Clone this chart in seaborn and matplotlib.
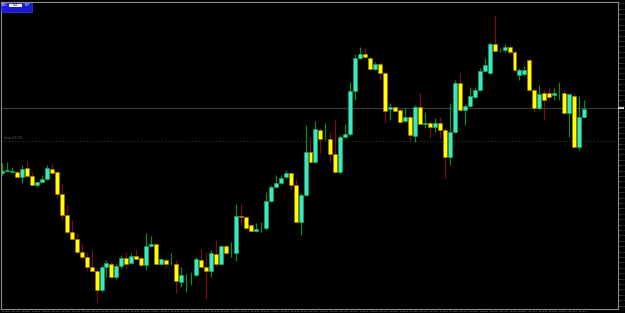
import numpy as np
import pandas as pd
import matplotlib
matplotlib.use("Agg")
import matplotlib.pyplot as plt
from matplotlib.patches import Rectangle
from matplotlib.ticker import FixedLocator, FuncFormatter
import seaborn as sns

# ---------------- data (OHLC) ----------------
open_ = [1.1147, 1.1149, 1.1148, 1.1148, 1.1143, 1.1152, 1.1144, 1.1135, 1.1138, 1.1141,
         1.1151, 1.1148, 1.1126, 1.1105, 1.1088, 1.1081, 1.1068, 1.1063, 1.1053, 1.1049,
         1.1030, 1.1053, 1.1056, 1.1043, 1.1054, 1.1062, 1.1057, 1.1064, 1.1062, 1.1055,
         1.1074, 1.1076, 1.1056, 1.1060, 1.1056, 1.1056, 1.1038, 1.1045, 1.1045, 1.1045,
         1.1060, 1.1053, 1.1049, 1.1066, 1.1056, 1.1074, 1.1067, 1.1067, 1.1104, 1.1103,
         1.1095, 1.1089, 1.1092, 1.1092, 1.1119, 1.1133, 1.1137, 1.1143, 1.1147, 1.1135,
         1.1098, 1.1125, 1.1168, 1.1158, 1.1190, 1.1182, 1.1181, 1.1166, 1.1148, 1.1183,
         1.1186, 1.1229, 1.1262, 1.1266, 1.1262, 1.1251, 1.1256, 1.1247, 1.1211, 1.1213,
         1.1210, 1.1199, 1.1203, 1.1184, 1.1213, 1.1196, 1.1197, 1.1193, 1.1197, 1.1190,
         1.1163, 1.1188, 1.1237, 1.1210, 1.1214, 1.1223, 1.1230, 1.1249, 1.1247, 1.1276,
         1.1270, 1.1270, 1.1273, 1.1268, 1.1245, 1.1246, 1.1260, 1.1230, 1.1212, 1.1227,
         1.1227, 1.1225, 1.1227, 1.1227, 1.1207, 1.1224, 1.1173, 1.1203]
high = [1.1157, 1.1158, 1.1153, 1.1150, 1.1155, 1.1159, 1.1148, 1.1139, 1.1145, 1.1155,
        1.1157, 1.1150, 1.1137, 1.1115, 1.1100, 1.1087, 1.1077, 1.1068, 1.1070, 1.1052,
        1.1055, 1.1060, 1.1058, 1.1056, 1.1065, 1.1068, 1.1067, 1.1071, 1.1064, 1.1087,
        1.1084, 1.1077, 1.1062, 1.1062, 1.1067, 1.1060, 1.1053, 1.1046, 1.1048, 1.1063,
        1.1072, 1.1068, 1.1070, 1.1080, 1.1075, 1.1076, 1.1078, 1.1116, 1.1116, 1.1104,
        1.1097, 1.1097, 1.1098, 1.1128, 1.1135, 1.1145, 1.1145, 1.1150, 1.1148, 1.1141,
        1.1127, 1.1195, 1.1183, 1.1199, 1.1192, 1.1197, 1.1188, 1.1200, 1.1185, 1.1196,
        1.1238, 1.1266, 1.1273, 1.1272, 1.1263, 1.1258, 1.1258, 1.1249, 1.1217, 1.1214,
        1.1212, 1.1212, 1.1205, 1.1215, 1.1227, 1.1208, 1.1199, 1.1202, 1.1203, 1.1192,
        1.1217, 1.1240, 1.1247, 1.1216, 1.1233, 1.1233, 1.1252, 1.1262, 1.1278, 1.1305,
        1.1272, 1.1276, 1.1275, 1.1270, 1.1252, 1.1254, 1.1262, 1.1232, 1.1235, 1.1230,
        1.1232, 1.1232, 1.1238, 1.1230, 1.1227, 1.1227, 1.1224, 1.1220]
low = [1.1145, 1.1148, 1.1147, 1.1142, 1.1137, 1.1142, 1.1134, 1.1133, 1.1137, 1.1140,
       1.1146, 1.1122, 1.1100, 1.1086, 1.1080, 1.1066, 1.1061, 1.1050, 1.1048, 1.1018,
       1.1028, 1.1043, 1.1042, 1.1041, 1.1052, 1.1052, 1.1056, 1.1060, 1.1052, 1.1050,
       1.1073, 1.1055, 1.1055, 1.1052, 1.1055, 1.1027, 1.1033, 1.1028, 1.1035, 1.1044,
       1.1052, 1.1021, 1.1043, 1.1054, 1.1055, 1.1066, 1.1063, 1.1059, 1.1095, 1.1091,
       1.1088, 1.1088, 1.1088, 1.1090, 1.1118, 1.1132, 1.1136, 1.1142, 1.1130, 1.1097,
       1.1085, 1.1124, 1.1157, 1.1157, 1.1167, 1.1180, 1.1158, 1.1147, 1.1146, 1.1182,
       1.1184, 1.1220, 1.1261, 1.1262, 1.1250, 1.1250, 1.1240, 1.1197, 1.1200, 1.1208,
       1.1197, 1.1198, 1.1178, 1.1178, 1.1195, 1.1192, 1.1182, 1.1188, 1.1182, 1.1142,
       1.1155, 1.1187, 1.1209, 1.1195, 1.1213, 1.1222, 1.1229, 1.1248, 1.1246, 1.1268,
       1.1268, 1.1268, 1.1266, 1.1248, 1.1240, 1.1244, 1.1228, 1.1208, 1.1210, 1.1200,
       1.1220, 1.1220, 1.1220, 1.1206, 1.1183, 1.1172, 1.1170, 1.1202]
close = [1.1149, 1.1150, 1.1149, 1.1143, 1.1151, 1.1144, 1.1135, 1.1138, 1.1141, 1.1152,
         1.1147, 1.1126, 1.1105, 1.1088, 1.1081, 1.1068, 1.1063, 1.1053, 1.1049, 1.1030,
         1.1053, 1.1057, 1.1043, 1.1054, 1.1062, 1.1056, 1.1064, 1.1061, 1.1055, 1.1074,
         1.1076, 1.1056, 1.1061, 1.1056, 1.1056, 1.1039, 1.1045, 1.1045, 1.1045, 1.1061,
         1.1053, 1.1049, 1.1067, 1.1056, 1.1074, 1.1067, 1.1067, 1.1104, 1.1103, 1.1092,
         1.1089, 1.1091, 1.1092, 1.1119, 1.1133, 1.1137, 1.1142, 1.1147, 1.1135, 1.1098,
         1.1125, 1.1168, 1.1158, 1.1191, 1.1181, 1.1182, 1.1166, 1.1148, 1.1183, 1.1186,
         1.1229, 1.1262, 1.1266, 1.1263, 1.1251, 1.1256, 1.1247, 1.1209, 1.1213, 1.1209,
         1.1198, 1.1203, 1.1185, 1.1213, 1.1196, 1.1197, 1.1193, 1.1197, 1.1190, 1.1163,
         1.1188, 1.1237, 1.1210, 1.1214, 1.1224, 1.1230, 1.1249, 1.1255, 1.1276, 1.1269,
         1.1270, 1.1273, 1.1268, 1.1250, 1.1250, 1.1250, 1.1230, 1.1212, 1.1226, 1.1220,
         1.1223, 1.1227, 1.1227, 1.1207, 1.1226, 1.1173, 1.1203, 1.1211]

bid_price = 1.1212
level_price = 1.1179
level_label = "Level 1.1179"
panel_labels = ["SELL", "0.01", "BUY"]

n = len(open_)
times = pd.date_range("2019-03-04 00:00", periods=n, freq="h")
time_labels = [t.strftime("%d %H:%M") for t in times]

df = pd.DataFrame({"t": np.arange(n), "open": open_, "high": high,
                   "low": low, "close": close})
df["up"] = df["close"] >= df["open"]

# ---------------- style ----------------
sns.set_style("dark", {"axes.facecolor": "black", "figure.facecolor": "black",
                       "axes.edgecolor": "#8c8c8c", "xtick.color": "#9a9a9a",
                       "ytick.color": "#9a9a9a", "text.color": "#c0c0c0"})
plt.rcParams["font.family"] = ["DejaVu Sans"]

W, H = 625, 313
fig = plt.figure(figsize=(W / 100, H / 100), dpi=100)
fig.patch.set_facecolor("black")
ax = fig.add_axes([1.5 / W, (H - 309) / H, (618 - 1.5) / W, (309 - 2) / H])
ax.set_facecolor("black")

up_body, dn_body = "#3ee6c8", "#ffff00"
up_wick, dn_wick = "#0f8a1c", "#7a0f0f"
up_edge, dn_edge = "#1aa05a", "#a07000"

# wicks
for is_up, col in [(True, up_wick), (False, dn_wick)]:
    d = df[df["up"] == is_up]
    ax.vlines(d["t"], d["low"], d["high"], colors=col, linewidth=0.9, zorder=1)

# bodies
mn = 0.00007
for is_up, fc, ec in [(True, up_body, up_edge), (False, dn_body, dn_edge)]:
    d = df[df["up"] == is_up]
    bot = np.minimum(d["open"], d["close"])
    hgt = np.abs(d["close"] - d["open"])
    doji = hgt < 0.00005
    ax.bar(d["t"][~doji], hgt[~doji], bottom=bot[~doji], width=0.8,
           color=fc, edgecolor=ec, linewidth=0.5, zorder=2)
    ax.bar(d["t"][doji], mn, bottom=bot[doji] - mn / 2, width=0.8,
           color=(up_wick if is_up else "#d08000"), linewidth=0, zorder=2)

# bid and level lines
ax.axhline(bid_price, color="#3c3c3c", linewidth=0.8, zorder=0)
ax.axhline(level_price, color="#164016", linewidth=0.7, linestyle=(0, (1.5, 2)), zorder=0)
ax.text(0.4, level_price + 0.0001, level_label, fontsize=2.0, color="#6e6e6e",
        va="bottom", ha="left")

ax.set_xlim(-0.1, 123.8)
ax.set_ylim(1.1011, 1.1318)

# axes ticks
ax.yaxis.tick_right()
yt = np.arange(1.1014, 1.1318, 0.00054)
ax.yaxis.set_major_locator(FixedLocator(yt))
ax.yaxis.set_major_formatter(FuncFormatter(lambda v, p: f"{v:.4f}"))
ax.tick_params(axis="y", labelsize=1.2, length=0.8, width=0.4, pad=0.2,
               colors="#a8a8a8")
xt = np.arange(0, n + 6, 2)
ax.xaxis.set_major_locator(FixedLocator(xt))
lbls = [time_labels[i] if i < n else "" for i in xt]
ax.set_xticklabels(lbls)
ax.tick_params(axis="x", labelsize=1.3, length=1.0, width=0.4, pad=0.4,
               colors="#a8a8a8")
for lab in ax.get_xticklabels():
    lab.set_horizontalalignment("left")
for s in ax.spines.values():
    s.set_color("#8c8c8c")
    s.set_linewidth(0.8)
ax.grid(False)

# bid marker on price axis
ax.annotate(f"{bid_price:.4f}", xy=(1.0, bid_price), xycoords=("axes fraction", "data"),
            xytext=(0.3, 0), textcoords="offset points", fontsize=1.2, color="black",
            va="center", ha="left",
            bbox=dict(boxstyle="square,pad=0.2", fc="#d8d8d8", ec="none"))

# one-click trading panel (top left)
fig.patches.append(Rectangle((1 / W, 1 - 12 / H), 31 / W, 9 / H, transform=fig.transFigure,
                             facecolor="#1a1ad0", edgecolor="#5050ff", linewidth=0.4))
fig.patches.append(Rectangle((9 / W, 1 - 7 / H), 13 / W, 3.5 / H, transform=fig.transFigure,
                             facecolor="#f0f0f0", edgecolor="none"))
fig.text(5 / W, 1 - 5.5 / H, panel_labels[0], fontsize=1.8, color="white", ha="center", va="center")
fig.text(15.5 / W, 1 - 5.3 / H, panel_labels[1], fontsize=1.8, color="black", ha="center", va="center")
fig.text(27 / W, 1 - 5.5 / H, panel_labels[2], fontsize=1.8, color="white", ha="center", va="center")

fig.savefig("out.png", dpi=100, facecolor="black")
